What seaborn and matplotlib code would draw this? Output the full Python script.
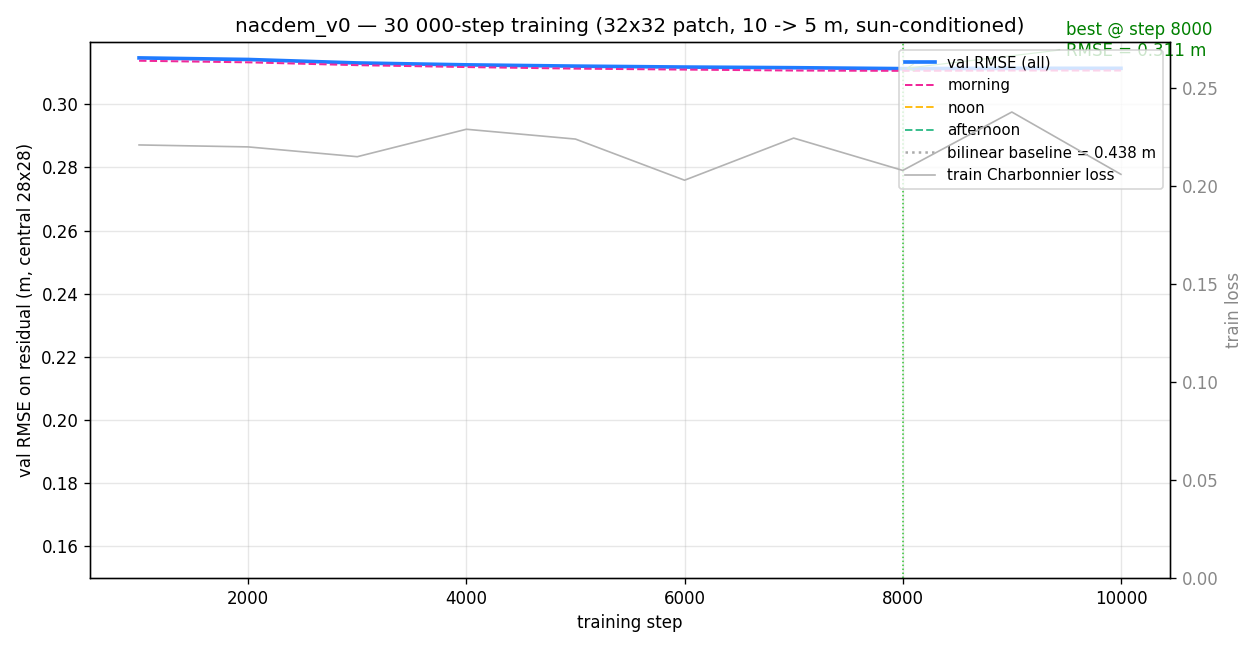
import numpy as np
import matplotlib
matplotlib.use("Agg")
import matplotlib.pyplot as plt
import seaborn as sns

steps = [1000, 2000, 3000, 4000, 5000, 6000, 7000, 8000, 9000, 10000]
val_all = [0.3147, 0.3142, 0.3131, 0.3125, 0.3121, 0.3118, 0.3116, 0.3113, 0.3114, 0.3114]
val_morning = [0.3138, 0.3133, 0.3124, 0.3118, 0.3113, 0.3110, 0.3107, 0.3106, 0.3107, 0.3107]
noon_steps = []
val_noon = []
afternoon_steps = []
val_afternoon = []
train_loss = [0.221, 0.220, 0.215, 0.229, 0.224, 0.203, 0.2245, 0.208, 0.2378, 0.206]
baseline_rmse = 0.438
best_step = 8000
best_rmse = 0.311

fig, ax = plt.subplots(figsize=(10.5, 5.4), dpi=120)
fig.subplots_adjust(left=0.0714, right=0.9286, top=0.935, bottom=0.108)

sns.lineplot(x=steps, y=val_all, ax=ax, color="#1f7bff", lw=2.2, label="val RMSE (all)")
sns.lineplot(x=steps, y=val_morning, ax=ax, color="#f0289a", lw=1.2, ls="--", label="morning")
ax.plot(noon_steps, val_noon, color="#ffbe1a", lw=1.2, ls="--", label="noon")
ax.plot(afternoon_steps, val_afternoon, color="#3dbf8f", lw=1.2, ls="--", label="afternoon")
ax.axhline(baseline_rmse, color="#aaaaaa", lw=1.5, ls=":", label=f"bilinear baseline = {baseline_rmse:.3f} m")
ax.axvline(best_step, color="#2ec42e", lw=0.9, ls=":")
ax.annotate(f"best @ step {best_step}\nRMSE = {best_rmse:.3f} m",
            xy=(best_step, min(val_all)), xytext=(best_step + 1500, 0.3153),
            color="green",
            arrowprops=dict(arrowstyle="->", color="#55bb55", lw=0.7))

ax.set_ylim(0.15, max(val_all) + 0.005)
ax.set_xlabel("training step")
ax.set_ylabel("val RMSE on residual (m, central 28x28)")
ax.set_title("nacdem_v0 \u2014 30 000-step training (32x32 patch, 10 -> 5 m, sun-conditioned)")
ax.grid(True, alpha=0.3)

ax2 = ax.twinx()
sns.lineplot(x=steps, y=train_loss, ax=ax2, color="#b3b3b3", lw=1, label="train Charbonnier loss")
ax2.set_ylim(0, max(train_loss) * 1.15)
ax2.set_ylabel("train loss", color="#888888")
ax2.tick_params(axis="y", labelcolor="#888888")
if ax2.get_legend() is not None:
    ax2.get_legend().remove()

h1, l1 = ax.get_legend_handles_labels()
h2, l2 = ax2.get_legend_handles_labels()
ax.legend(h1 + h2, l1 + l2, loc="upper right", fontsize=9)

fig.savefig("out.png", dpi=120)
